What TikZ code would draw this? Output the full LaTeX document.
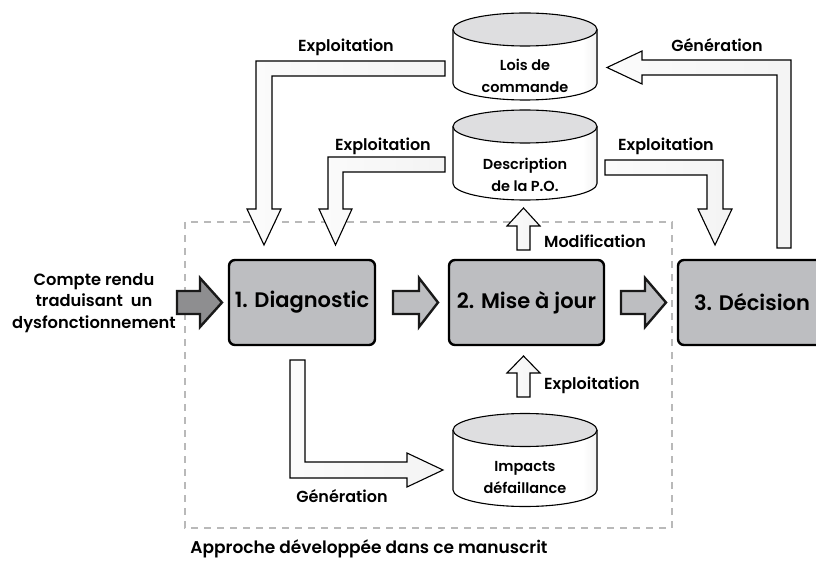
\documentclass[tikz,border=0pt]{standalone}
\usepackage{fontspec}
\setmainfont{Poppins}[BoldFont={Poppins SemiBold}]
\definecolor{boxgray}{HTML}{BDBEC1}
\definecolor{ingray}{HTML}{8E8E90}
\definecolor{topgray}{HTML}{DEDEE0}
\pgfdeclarehorizontalshading{cylbody}{100bp}{color(0bp)=(gray!30); color(12bp)=(white); color(70bp)=(white); color(88bp)=(gray!35); color(100bp)=(gray!70)}
\pgfdeclarehorizontalshading{shaftshade}{100bp}{color(0bp)=(white); color(100bp)=(gray!12)}
\begin{document}
\begin{tikzpicture}[x=1pt,y=-1pt,
  stage/.style={draw=black, line width=2.4pt, rounded corners=6pt, fill=boxgray, minimum height=85pt, inner sep=0pt, font=\fontsize{21}{24}\selectfont\bfseries},
  lbl/.style={font=\fontsize{16}{18}\selectfont\bfseries, inner sep=0pt},
  cyltxt/.style={font=\fontsize{14.5}{22}\selectfont\bfseries, align=center, inner sep=0pt},
  whitearrow/.style={draw=black, line width=1.1pt, shading=shaftshade, line join=miter},
  grayarrow/.style={draw=black!90, line width=2.4pt, fill=boxgray, line join=miter},
  cylline/.style={draw=black, line width=1.1pt}
]
\useasboundingbox (0,0) rectangle (816,561);

% dashed frame
\draw[gray!55, line width=1.6pt, dash pattern=on 7pt off 6pt] (185,222) rectangle (672,528);

% stages
\node[stage, minimum width=146pt] (d1) at (302,302.5) {1. Diagnostic};
\node[stage, minimum width=155pt] (d2) at (526.5,302.5) {2. Mise à jour};
\begin{scope}
\clip (0,0) rectangle (816,561);
\draw[draw=black, line width=2.4pt, rounded corners=6pt, fill=boxgray] (678,260) rectangle (840,345);
\end{scope}
\node[font=\fontsize{21}{24}\selectfont\bfseries, inner sep=0pt] (d3) at (752,302.5) {3. Décision};

% cylinders
\newcommand\mycyl[4]{% cx, top center y, bottom center y, name
  \fill[shading=cylbody] (#1-72,#2) -- (#1-72,#3) arc[start angle=180, end angle=0, x radius=72, y radius=16.5] -- (#1+72,#2) -- cycle;
  \draw[cylline] (#1-72,#2) -- (#1-72,#3) arc[start angle=180, end angle=0, x radius=72, y radius=16.5] -- (#1+72,#2);
  \draw[cylline, fill=topgray] (#1,#2) ellipse[x radius=72, y radius=16.5];
  \coordinate (#4) at (#1,#2);
}
\mycyl{525}{29.5}{83.5}{loistop}
\mycyl{525}{126.5}{183.5}{desctop}
\mycyl{525}{430}{490}{imptop}
\node[cyltxt] (lois) at (525,76) {Lois de\\commande};
\node[cyltxt] (desc) at (525,175) {Description\\de la P.O.};
\node[cyltxt] (imp) at (525,478) {Impacts\\défaillance};

% input
\node[font=\fontsize{16.3}{21.5}\selectfont\bfseries, align=center, inner sep=0pt] (cr) at (94,303) {Compte rendu\\traduisant\ \ un\\dysfonctionnement};
\draw[grayarrow, fill=ingray] (177,291) -- (200,291) -- (200,278) -- (222,302.5) -- (200,327) -- (200,314) -- (177,314) -- cycle;

% gray flow arrows
\draw[grayarrow] (393,291) -- (419,291) -- (419,278) -- (438,302.5) -- (419,327) -- (419,314) -- (393,314) -- cycle;
\draw[grayarrow] (621,291) -- (645,291) -- (645,278) -- (666,302.5) -- (645,327) -- (645,314) -- (621,314) -- cycle;

% white block arrows
\draw[whitearrow] (445,61) -- (256,61) -- (256,209) -- (247,209) -- (264,245) -- (281,209) -- (272,209) -- (272,76) -- (445,76) -- cycle;
\draw[whitearrow] (445,157) -- (328,157) -- (328,209) -- (319,209) -- (335.5,245) -- (352,209) -- (343,209) -- (343,172) -- (445,172) -- cycle;
\draw[whitearrow] (605,160) -- (723,160) -- (723,209) -- (732,209) -- (715,245) -- (698,209) -- (707,209) -- (707,175) -- (605,175) -- cycle;
\draw[whitearrow] (777,248) -- (777,75) -- (642,75) -- (642,84) -- (607,67.5) -- (642,51) -- (642,60) -- (791,60) -- (791,248) -- cycle;
\draw[whitearrow] (517,250) -- (517,226) -- (507,226) -- (523.5,208) -- (540,226) -- (530,226) -- (530,250) -- cycle;
\draw[whitearrow] (517,397) -- (517,373) -- (507,373) -- (523.5,356) -- (540,373) -- (530,373) -- (530,397) -- cycle;
\draw[whitearrow] (290,360) -- (290,478) -- (407,478) -- (407,487) -- (443,470) -- (407,453) -- (407,462) -- (305,462) -- (305,360) -- cycle;

% labels
\node[lbl] (l1) at (346,47) {Exploitation};
\node[lbl] (l2) at (383,146) {Exploitation};
\node[lbl] (l3) at (666,146) {Exploitation};
\node[lbl] (l4) at (717,45) {Génération};
\node[lbl] (l5) at (595,241) {Modification};
\node[lbl] (l6) at (592,385) {Exploitation};
\node[lbl] (l7) at (342,496) {Génération};
\node[lbl, font=\fontsize{17}{18}\selectfont\bfseries] (cap) at (369,549) {Approche développée dans ce manuscrit};
\end{tikzpicture}
\end{document}
